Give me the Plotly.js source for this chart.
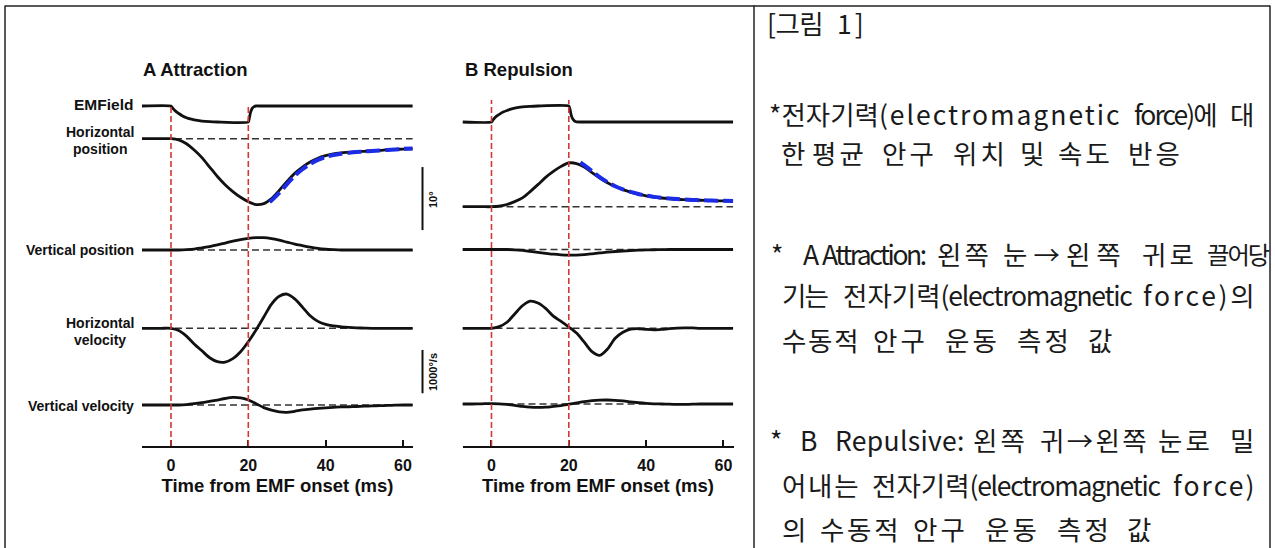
<!DOCTYPE html>
<html>
<head>
<meta charset="utf-8">
<script src="https://cdn.plot.ly/plotly-3.0.1.min.js"></script>
<style>
html,body{margin:0;padding:0;background:#fff;}
#chart{width:1275px;height:548px;}
</style>
</head>
<body>
<div id="chart"></div>
<script>
// ---------------- DATA ----------------
// common time grid (ms from EMF onset)
const time = [-7.5,-5,-2.5,0,2,4,6,8,10,12,14,16,18,20,22,24,26,28,30,32,34,36,38,40,42,44,46,48,50,52,54,56,58,60,62.5];

// EM field state (1 = upper level, 0 = lower level)
const emTimeA = [-7.5,0,0.5,1,1.5,2,3,4,5,6,8,10,12,20,20.3,20.6,21,21.5,22,23,62.5];
const attrEM  = [1,1,0.85,0.72,0.62,0.53,0.38,0.27,0.19,0.13,0.06,0.02,0,0,0.3,0.62,0.85,0.96,1,1,1];
const emTimeB = [-7.5,0,0.5,1,1.5,2,3,4,5,6,8,10,12,20,20.3,20.6,21,21.5,22,23,62.5];
const repEM   = [0,0,0.17,0.3,0.4,0.48,0.62,0.72,0.8,0.86,0.94,0.98,1,1,0.8,0.45,0.2,0.06,0.01,0,0];

// A Attraction (deg, deg/s)
const attrHPos = [0,0,0,0,-0.2,-0.8,-1.8,-3.0,-4.5,-6.0,-7.3,-8.4,-9.3,-10.0,-10.45,-10.3,-9.5,-8.2,-6.8,-5.5,-4.5,-3.7,-3.1,-2.7,-2.4,-2.25,-2.15,-2.05,-2.0,-1.9,-1.85,-1.75,-1.7,-1.65,-1.6];
const fitTimeA = [25.5,26,28,30,32,34,36,38,40,42,44,46,48,50,52,54,56,58,60,62.5];
const attrHPosFit = [-10.05,-9.8,-8.6,-7.2,-5.9,-4.85,-4.0,-3.35,-2.9,-2.6,-2.4,-2.25,-2.12,-2.02,-1.94,-1.86,-1.78,-1.7,-1.62,-1.55];
const attrVPos = [0,0,0,0,0,0.05,0.15,0.35,0.55,0.8,1.1,1.4,1.65,1.85,1.95,1.95,1.8,1.55,1.25,0.95,0.7,0.45,0.25,0.12,0.05,0,0,0,0,0,0,0,0,0,0];
const attrHVel = [0,0,0,0,-50,-180,-360,-520,-680,-770,-780,-700,-540,-310,-40,260,560,740,790,680,490,290,160,90,55,35,20,10,5,0,0,0,0,0,0];
const attrVVel = [0,0,0,0,0,10,30,55,85,115,150,175,165,115,30,-60,-120,-160,-170,-145,-115,-95,-78,-65,-55,-45,-40,-35,-28,-22,-16,-10,-5,0,0];

// B Repulsion
const repHPos = [0,0,0,0,0.1,0.35,0.8,1.4,2.4,3.5,4.65,5.6,6.4,6.95,6.85,6.3,5.4,4.55,3.8,3.2,2.72,2.32,1.98,1.72,1.52,1.38,1.27,1.18,1.12,1.07,1.02,0.98,0.95,0.92,0.9];
const fitTimeB = [23,24,26,28,30,32,34,36,38,40,42,44,46,48,50,52,54,56,58,60,62.5];
const repHPosFit = [7.05,6.6,5.65,4.7,3.9,3.25,2.75,2.35,2.02,1.76,1.56,1.42,1.3,1.21,1.14,1.08,1.03,0.99,0.96,0.94,0.92];
const repVPos = [0,0,0,0,0,0,-0.05,-0.15,-0.3,-0.45,-0.6,-0.75,-0.85,-0.9,-0.88,-0.8,-0.68,-0.55,-0.42,-0.32,-0.24,-0.17,-0.11,-0.07,-0.04,-0.02,0,0,0,0,0,0,0,0,0];
const repHVel = [0,0,0,0,40,140,330,520,625,585,460,280,160,30,-110,-320,-540,-625,-480,-230,-90,-20,-10,-25,-35,-25,-8,5,12,8,0,0,0,0,0];
const repVVel = [0,0,5,10,5,-10,-30,-55,-72,-77,-72,-55,-35,-5,25,55,78,90,92,85,70,50,30,15,5,0,-5,-8,-8,-5,0,0,0,0,0];

// event markers (EMF on / off), scale bars, ticks, labels
const eventTimes = [0, 20];
const tickValues = [0, 20, 40, 60];
const scalePos = 10;      // deg
const scaleVel = 1000;    // deg/s
const panelTitles = ['A Attraction', 'B Repulsion'];
const xTitle = 'Time from EMF onset (ms)';

// right-hand note text (word by word)
const noteLines = [
  ['[그림', '1]'],
  ['*전자기력(electromagnetic', 'force)에', '대'],
  ['한', '평균', '안구', '위치', '및', '속도', '반응'],
  ['*', 'A', 'Attraction:', '왼쪽', '눈→왼쪽', '귀로', '끌어당'],
  ['기는', '전자기력(electromagnetic', 'force)의'],
  ['수동적', '안구', '운동', '측정', '값'],
  ['*', 'B', 'Repulsive:', '왼쪽', '귀→왼쪽', '눈로', '밀'],
  ['어내는', '전자기력(electromagnetic', 'force)'],
  ['의', '수동적', '안구', '운동', '측정', '값']
];

// ---------------- LAYOUT GEOMETRY (pixels) ----------------
const W = 1275, H = 548;
const noteSpans = [
  [[767,822],[837,863]],
  [[769,1120],[1134,1216],[1230,1253]],
  [[781,804],[812,866],[882,937],[953,1007],[1020,1043],[1058,1112],[1128,1183]],
  [[771,777],[803,818],[822,923],[937,990],[1003,1127],[1142,1195],[1207,1265]],
  [[782,827],[843,1130],[1143,1253]],
  [[782,857],[873,930],[945,1003],[1017,1073],[1088,1112]],
  [[770,778],[800,818],[835,963],[973,1027],[1040,1145],[1158,1212],[1230,1253]],
  [[782,857],[872,1158],[1173,1255]],
  [[782,805],[820,897],[913,968],[985,1040],[1057,1113],[1127,1150]]
];
const noteY = [23,113,153,254,294,339,439,484,528];
const NOTE_SIZE = 26.5;
const NOTE_FONT = '"Noto Sans CJK KR"';

const px = x => x / W;
const py = y => 1 - y / H;
const TOP = 88, AXIS_Y = 446;
const yDomain = [py(AXIS_Y), py(TOP)];
const POS_SCALE = 6.3, VEL_SCALE = 0.0433, EM_SCALE = 16;
function yAx(zero, scale, extra) {
  return Object.assign({
    domain: yDomain,
    range: [(zero - AXIS_Y) / scale, (zero - TOP) / scale],
    visible: false, fixedrange: true
  }, extra || {});
}
const XRANGE = [-7.5, 62.6];

const LBL = {family: 'Liberation Sans, Arial, sans-serif', color: '#111', weight: 700};

function xAx(d0, d1, anchor) {
  return {
    domain: [px(d0), px(d1)], range: XRANGE, anchor: anchor,
    showline: true, linecolor: '#111', linewidth: 2,
    ticks: 'inside', ticklen: 6, tickwidth: 2, tickcolor: '#111',
    tickvals: tickValues, ticktext: tickValues.map(String),
    tickfont: Object.assign({size: 16}, LBL),
    ticklabelstandoff: 4,
    showgrid: false, zeroline: false, fixedrange: true, automargin: false,
    title: {text: xTitle, font: Object.assign({size: 18.5}, LBL), standoff: 6}
  };
}

const layout = {
  width: W, height: H,
  margin: {l: 0, r: 0, t: 0, b: 0},
  paper_bgcolor: '#fff', plot_bgcolor: 'rgba(0,0,0,0)',
  showlegend: false,
  xaxis: xAx(142, 413, 'y'),
  xaxis2: xAx(462.5, 733.5, 'y6'),
  yaxis:  yAx(122, EM_SCALE, {anchor: 'x'}),
  yaxis2: yAx(138.7, POS_SCALE, {anchor: 'x', overlaying: 'y'}),
  yaxis3: yAx(250, POS_SCALE, {anchor: 'x', overlaying: 'y'}),
  yaxis4: yAx(328.3, VEL_SCALE, {anchor: 'x', overlaying: 'y'}),
  yaxis5: yAx(405, VEL_SCALE, {anchor: 'x', overlaying: 'y'}),
  yaxis6: yAx(122, EM_SCALE, {anchor: 'x2'}),
  yaxis7: yAx(206.7, POS_SCALE, {anchor: 'x2', overlaying: 'y6'}),
  yaxis8: yAx(249.5, POS_SCALE, {anchor: 'x2', overlaying: 'y6'}),
  yaxis9: yAx(328.3, VEL_SCALE, {anchor: 'x2', overlaying: 'y6'}),
  yaxis10: yAx(404, VEL_SCALE, {anchor: 'x2', overlaying: 'y6'}),
  shapes: [], annotations: []
};

// ---------------- TRACES ----------------
const BLACK = {color: '#111', width: 2.8, shape: 'spline', smoothing: 0.8};
function line(x, y, xa, ya, lineOpt) {
  return {type: 'scatter', mode: 'lines', x: x, y: y, xaxis: xa, yaxis: ya,
          line: Object.assign({}, BLACK, lineOpt || {}), hoverinfo: 'skip', cliponaxis: false};
}
const BLUE = {color: '#1b2be6', width: 4, dash: '14px,5px'};
const data = [
  line(emTimeA, attrEM, 'x', 'y', {shape: 'spline', smoothing: 0.5}),
  line(time, attrHPos, 'x', 'y2'),
  line(fitTimeA, attrHPosFit, 'x', 'y2', BLUE),
  line(time, attrVPos, 'x', 'y3'),
  line(time, attrHVel, 'x', 'y4'),
  line(time, attrVVel, 'x', 'y5'),
  line(emTimeB, repEM, 'x2', 'y6', {shape: 'spline', smoothing: 0.5}),
  line(time, repHPos, 'x2', 'y7'),
  line(fitTimeB, repHPosFit, 'x2', 'y7', BLUE),
  line(time, repVPos, 'x2', 'y8'),
  line(time, repHVel, 'x2', 'y9'),
  line(time, repVVel, 'x2', 'y10')
];

// ---------------- SHAPES ----------------
const S = layout.shapes;
[['x','y2'],['x','y3'],['x','y4'],['x','y5'],['x2','y7'],['x2','y8'],['x2','y9'],['x2','y10']].forEach(([xa, ya]) => {
  S.push({type: 'line', xref: xa, yref: ya, x0: XRANGE[0], x1: 62.5, y0: 0, y1: 0,
          line: {color: '#333', width: 1.5, dash: '7px,4px'}, layer: 'below'});
});
[['x', 106], ['x2', 100]].forEach(([xa, topPx]) => {
  eventTimes.forEach(t => {
    S.push({type: 'line', xref: xa, yref: 'paper', x0: t, x1: t, y0: py(AXIS_Y), y1: py(topPx),
            line: {color: '#d23838', width: 1.6, dash: '6px,3px'}, layer: 'above'});
  });
});
S.push({type: 'line', xref: 'paper', yref: 'y2', x0: px(422.5), x1: px(422.5), y0: -14.5, y1: -14.5 + scalePos,
        line: {color: '#111', width: 2}});
S.push({type: 'line', xref: 'paper', yref: 'y4', x0: px(422.5), x1: px(422.5), y0: -1500, y1: -1500 + scaleVel,
        line: {color: '#111', width: 2}});
const FR = {color: '#222', width: 1.5};
S.push({type: 'line', xref: 'paper', yref: 'paper', x0: px(5), x1: px(5), y0: 0, y1: py(5.5), line: FR});
S.push({type: 'line', xref: 'paper', yref: 'paper', x0: px(5), x1: px(1270), y0: py(6), y1: py(6), line: FR});
S.push({type: 'line', xref: 'paper', yref: 'paper', x0: px(754), x1: px(754), y0: 0, y1: py(5.5), line: FR});
S.push({type: 'line', xref: 'paper', yref: 'paper', x0: px(1270), x1: px(1270), y0: 0, y1: py(5.5), line: FR});

// ---------------- ANNOTATIONS ----------------
const A = layout.annotations;
function lab(text, x, y, xanchor, size, extra) {
  A.push(Object.assign({xref: 'paper', yref: 'paper', x: px(x), y: py(y), xanchor: xanchor, yanchor: 'middle',
    text: text, showarrow: false, borderpad: 0, font: Object.assign({size: size}, LBL)}, extra || {}));
}
lab(panelTitles[0], 142, 69, 'left', 18.5);
lab(panelTitles[1], 464, 69, 'left', 18.5);
lab('EMField', 134, 105, 'right', 15.5);
lab('Horizontal', 99.5, 132, 'center', 14);
lab('position', 99.5, 148.5, 'center', 14);
lab('Vertical position', 135, 250, 'right', 14);
lab('Horizontal', 99.5, 323, 'center', 14);
lab('velocity', 99.5, 340, 'center', 14);
lab('Vertical velocity', 135, 406, 'right', 14);
lab(scalePos + '°', 433, 200, 'center', 11, {textangle: -90});
lab(scaleVel + '°/s', 433, 372, 'center', 11, {textangle: -90});

const LATIN = /[A-Za-z()\]\[:.,]+/g;
function draw() {
  const ctx = document.createElement('canvas').getContext('2d');
  const meas = (s, size) => { ctx.font = size + 'px ' + NOTE_FONT; return ctx.measureText(s).width; };
  noteLines.forEach((words, i) => {
    words.forEach((w, j) => {
      const [x0, x1] = noteSpans[i][j];
      const target = x1 - x0 + 0.06 * NOTE_SIZE;
      const n = Array.from(w).length;
      let size = NOTE_SIZE, txt = w;
      const adv = meas(w, size);
      const latin = (w.match(LATIN) || []).join('');
      if (latin.length >= 4) {
        let ls = (target - adv) / latin.length;
        ls = Math.max(-3, Math.min(8, ls));
        txt = w.replace(LATIN, m => '<span style="letter-spacing:' + ls.toFixed(2) + 'px">' + m + '</span>');
      } else if (n > 1) {
        const maxLs = w.indexOf('→') >= 0 ? 6 : 3;
        let ls = (target - adv) / (n - 1);
        ls = Math.max(-2, Math.min(maxLs, ls));
        const got = adv + ls * (n - 1);
        if (got > target + 4) size = Math.max(20, size * (target + 4) / got);
        if (Math.abs(ls) > 0.05) txt = '<span style="letter-spacing:' + ls.toFixed(2) + 'px">' + w + '</span>';
      }
      A.push({xref: 'paper', yref: 'paper', x: px(x0 - 0.03 * size), y: py(noteY[i]),
              xanchor: 'left', yanchor: 'middle', text: txt, showarrow: false, borderpad: 0,
              font: {family: NOTE_FONT + ', sans-serif', size: size, color: '#1a1a1a'}});
    });
  });
  Plotly.newPlot('chart', data, layout, {staticPlot: true, displayModeBar: false});
}
if (document.fonts && document.fonts.load) {
  document.fonts.load(NOTE_SIZE + 'px ' + NOTE_FONT, '가a').then(draw, draw);
} else { draw(); }
</script>
</body>
</html>
